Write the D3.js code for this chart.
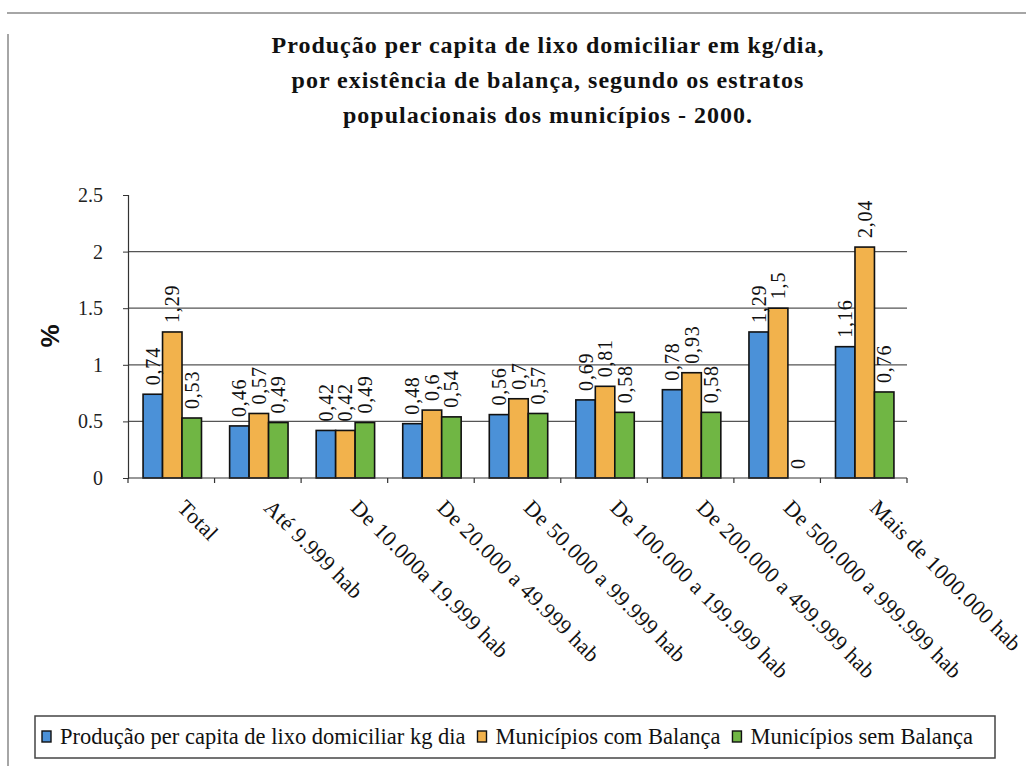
<!DOCTYPE html>
<html>
<head>
<meta charset="utf-8">
<script src="https://cdn.jsdelivr.net/npm/d3@7"></script>
<style>
  html, body { margin: 0; padding: 0; background: #fff; }
  svg { display: block; }
</style>
</head>
<body>
<svg id="chart" width="1026" height="766"></svg>
<script>
// Population strata (categories)
const categories = [
  "Total",
  "Até 9.999 hab",
  "De 10.000a 19.999 hab",
  "De 20.000 a 49.999 hab",
  "De 50.000 a 99.999 hab",
  "De 100.000 a  199.999 hab",
  "De 200.000 a 499.999 hab",
  "De 500.000 a 999.999 hab",
  "Mais de 1000.000 hab"
];

// Series names
const seriesNames = [
  "Produção per capita de lixo domiciliar kg dia",
  "Municípios com Balança",
  "Municípios sem Balança"
];

// Values (kg/day per capita)
const perCapita   = [0.74, 0.46, 0.42, 0.48, 0.56, 0.69, 0.78, 1.29, 1.16];
const comBalanca  = [1.29, 0.57, 0.42, 0.60, 0.70, 0.81, 0.93, 1.50, 2.04];
const semBalanca  = [0.53, 0.49, 0.49, 0.54, 0.57, 0.58, 0.58, 0.00, 0.76];

const yTicks = [0, 0.5, 1, 1.5, 2, 2.5];
const gridTicks = [0.5, 1, 1.5, 2];

const colors = ["#4b91d8", "#f2b24c", "#70b644"];

const titleLines = [
  "Produção per capita de lixo domiciliar em kg/dia,",
  "por existência de balança, segundo os estratos",
  "populacionais dos municípios - 2000."
];

const SERIF = "Liberation Serif";
const SANS = "Liberation Sans";

const seriesValues = [perCapita, comBalanca, semBalanca];
const rows = categories.map((c, i) => ({
  cat: c,
  vals: seriesNames.map((s, j) => ({ series: s, idx: j, value: seriesValues[j][i] }))
}));

const svg = d3.select("#chart");

// Frame lines
svg.append("line").attr("x1", 7).attr("x2", 1026).attr("y1", 13).attr("y2", 13)
  .attr("stroke", "#888").attr("stroke-width", 1.5);
svg.append("line").attr("x1", 8).attr("x2", 8).attr("y1", 34).attr("y2", 766)
  .attr("stroke", "#888").attr("stroke-width", 1.5);

// Title
const title = svg.append("text")
  .attr("text-anchor", "middle")
  .attr("font-family", SERIF)
  .attr("font-weight", "bold")
  .attr("font-size", 24)
  .attr("letter-spacing", 1)
  .attr("fill", "#111");
titleLines.forEach((t, i) => {
  title.append("tspan").attr("x", 548).attr("y", 53 + i * 35).text(t);
});

// Scales
const plot = { left: 128, right: 907, top: 195, bottom: 478 };
const x0 = d3.scaleBand().domain(categories).range([plot.left, plot.right]).padding(0);
const bw = x0.bandwidth();
const groupW = bw * 0.675;
const x1 = d3.scaleBand().domain(seriesNames)
  .range([(bw - groupW) / 2 + 1, (bw + groupW) / 2 + 1]).padding(0);
const y = d3.scaleLinear().domain([0, 2.5]).range([plot.bottom, plot.top]);

// Gridlines
svg.append("g").selectAll("line").data(gridTicks).join("line")
  .attr("x1", plot.left).attr("x2", plot.right)
  .attr("y1", d => y(d)).attr("y2", d => y(d))
  .attr("stroke", "#555").attr("stroke-width", 1.2);

// Y axis
const yAxis = svg.append("g")
  .attr("transform", `translate(${plot.left},0)`)
  .call(d3.axisLeft(y).tickValues(yTicks).tickSize(5).tickPadding(20)
    .tickFormat(d => String(d)));
yAxis.attr("font-family", SERIF).attr("font-size", 20);
yAxis.select(".domain").attr("stroke", "#333").attr("stroke-width", 1.2);
yAxis.selectAll(".tick line").attr("stroke", "#333");
yAxis.selectAll(".tick text").attr("fill", "#222").attr("font-family", SERIF);

// Y axis title
svg.append("text")
  .attr("transform", "translate(59,336) rotate(-90)")
  .attr("text-anchor", "middle")
  .attr("font-family", SANS)
  .attr("font-weight", "bold")
  .attr("font-size", 26)
  .attr("fill", "#111")
  .text("%");

// Bars
const groups = svg.append("g").selectAll("g").data(rows).join("g")
  .attr("transform", d => `translate(${x0(d.cat)},0)`);

groups.selectAll("rect").data(d => d.vals).join("rect")
  .attr("x", d => x1(d.series))
  .attr("width", x1.bandwidth())
  .attr("y", d => y(d.value))
  .attr("height", d => y(0) - y(d.value))
  .attr("fill", d => colors[d.idx])
  .attr("stroke", "#111")
  .attr("stroke-width", 1.6);

// Value labels (rotated)
groups.selectAll("text.val").data(d => d.vals).join("text")
  .attr("class", "val")
  .attr("transform", d => `translate(${x1(d.series) + x1.bandwidth() / 2},${y(d.value) - 9}) rotate(-90)`)
  .attr("dy", "0.35em")
  .attr("text-anchor", "start")
  .attr("font-family", SERIF)
  .attr("font-size", 20)
  .attr("letter-spacing", 0.8)
  .attr("fill", "#111")
  .text(d => String(d.value).replace(".", ","));

// X axis
const xAxis = svg.append("g").attr("transform", `translate(0,${plot.bottom})`);
xAxis.append("line").attr("x1", plot.left).attr("x2", plot.right)
  .attr("stroke", "#333").attr("stroke-width", 1.2);
xAxis.selectAll("line.tick").data(d3.range(categories.length + 1)).join("line")
  .attr("class", "tick")
  .attr("x1", i => plot.left + i * bw).attr("x2", i => plot.left + i * bw)
  .attr("y1", 0).attr("y2", 5)
  .attr("stroke", "#333").attr("stroke-width", 1.2);

xAxis.selectAll("text").data(categories).join("text")
  .attr("transform", d => `translate(${x0(d) + bw / 2 + 5},31) rotate(45)`)
  .attr("text-anchor", "start")
  .attr("font-family", SERIF)
  .attr("font-size", 22)
  .attr("letter-spacing", 0.4)
  .attr("fill", "#111")
  .text(d => d);

// Legend
const legend = svg.append("g");
legend.append("rect")
  .attr("x", 35).attr("y", 716).attr("width", 960).attr("height", 42)
  .attr("fill", "#fff").attr("stroke", "#444").attr("stroke-width", 1.5);
let lx = 42;
seriesNames.forEach((s, i) => {
  legend.append("rect").attr("x", lx).attr("y", 731).attr("width", 9).attr("height", 11)
    .attr("fill", colors[i]).attr("stroke", "#111").attr("stroke-width", 1.4);
  const t = legend.append("text").attr("x", lx + 18).attr("y", 744)
    .attr("font-family", SERIF)
    .attr("font-size", 22.5)
    .attr("fill", "#111")
    .text(s);
  lx += 18 + t.node().getComputedTextLength() + 12;
});
</script>
</body>
</html>
